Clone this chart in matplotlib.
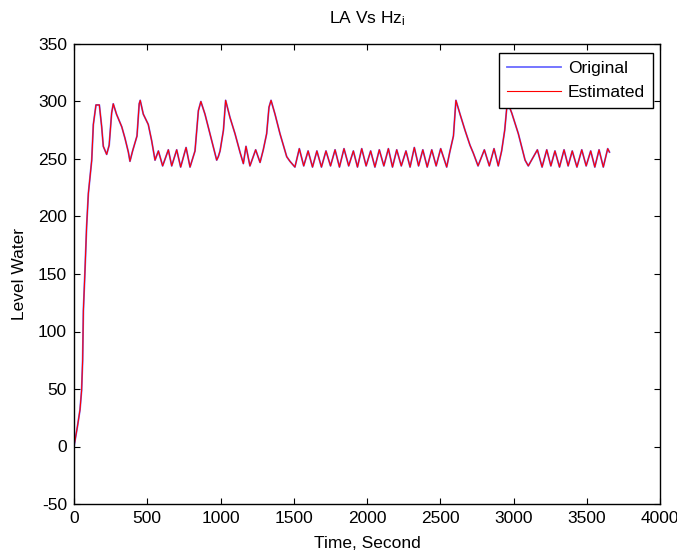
import matplotlib
matplotlib.use("Agg")
import matplotlib.pyplot as plt

plt.rcParams['font.family'] = ['Liberation Sans', 'DejaVu Sans']
plt.rcParams['mathtext.fontset'] = 'custom'
plt.rcParams['mathtext.rm'] = 'Liberation Sans'
plt.rcParams['mathtext.it'] = 'Liberation Sans'
plt.rcParams['axes.unicode_minus'] = False

time_s = [0, 23, 41, 52, 59, 64, 75, 86, 98, 121, 132, 150, 173, 189, 200, 223, 240, 257, 268,
          290, 326, 348, 371, 382, 400, 430, 445, 452, 473, 507, 530, 553, 576, 605, 644, 667,
          701, 728, 765, 792, 826, 849, 866, 894, 928, 974, 985, 997, 1020, 1035, 1065, 1099,
          1133, 1156, 1174, 1201, 1240, 1270, 1292, 1315, 1331, 1345, 1372, 1406, 1452, 1474,
          1508, 1538, 1568, 1598, 1628, 1658, 1689, 1720, 1751, 1782, 1812, 1843, 1875, 1907,
          1935, 1964, 1994, 2025, 2054, 2084, 2115, 2146, 2174, 2203, 2234, 2266, 2294, 2323,
          2352, 2381, 2411, 2442, 2472, 2503, 2544, 2565, 2590, 2607, 2635, 2669, 2703, 2726,
          2758, 2801, 2835, 2867, 2896, 2919, 2940, 2958, 2988, 3033, 3079, 3101, 3163, 3195,
          3227, 3255, 3283, 3314, 3345, 3373, 3401, 3433, 3466, 3496, 3527, 3555, 3584, 3613,
          3643, 3655]
original = [0, 17, 32, 49, 75, 118, 153, 191, 220, 249, 280, 297, 297, 278, 261, 254, 262, 290, 298,
            289, 278, 268, 256, 248, 257, 270, 298, 301, 289, 280, 266, 249, 257, 244, 258, 244,
            258, 243, 260, 243, 257, 292, 300, 289, 272, 249, 252, 257, 275, 301, 286, 272,
            256, 246, 261, 244, 258, 247, 258, 272, 295, 301, 289, 272, 252, 248,
            243, 259, 244, 257, 243, 257, 243, 257, 244, 258, 243, 259, 244, 257,
            243, 259, 244, 257, 243, 258, 244, 259, 243, 258, 244, 257, 243, 260,
            244, 258, 243, 258, 244, 259, 243, 256, 270, 301, 289, 275, 262, 255,
            244, 258, 244, 259, 244, 257, 275, 300, 290, 272, 249, 244, 258, 243,
            258, 244, 257, 243, 258, 244, 257, 243, 258, 244, 257, 243, 258, 243,
            259, 256]
estimated = list(original)

x_ticks = [0, 500, 1000, 1500, 2000, 2500, 3000, 3500, 4000]
y_ticks = [-50, 0, 50, 100, 150, 200, 250, 300, 350]

FS = 12.5

fig = plt.figure(figsize=(6.77, 5.53), dpi=100)
ax = fig.add_axes([74/677, 1-504/553, 586/677, 460/553])

ax.plot(time_s, original, color='#6a6aff', lw=1.3, label='Original')
ax.plot(time_s, estimated, color='red', lw=0.8, label='Estimated')

ax.set_xlim(0, 4000)
ax.set_ylim(-50, 350)
ax.set_xticks(x_ticks)
ax.set_yticks(y_ticks)
ax.tick_params(direction='in', top=True, right=True, length=4, width=0.8,
               labelsize=FS, pad=5)
for s in ax.spines.values():
    s.set_linewidth(1.0)

ax.set_title(r'LA Vs Hz$_\mathrm{i}$', fontsize=FS, pad=15)
ax.set_xlabel('Time, Second', fontsize=FS, labelpad=7)
ax.set_ylabel('Level Water', fontsize=FS, labelpad=8)

leg = ax.legend(loc='upper right', bbox_to_anchor=(0.988, 0.981), borderaxespad=0,
                fancybox=False, framealpha=1, edgecolor='black', fontsize=FS,
                handlelength=3.1, handletextpad=0.4, borderpad=0.45, labelspacing=0.55)
leg.get_frame().set_linewidth(1.0)

fig.savefig('out.png', dpi=100)
